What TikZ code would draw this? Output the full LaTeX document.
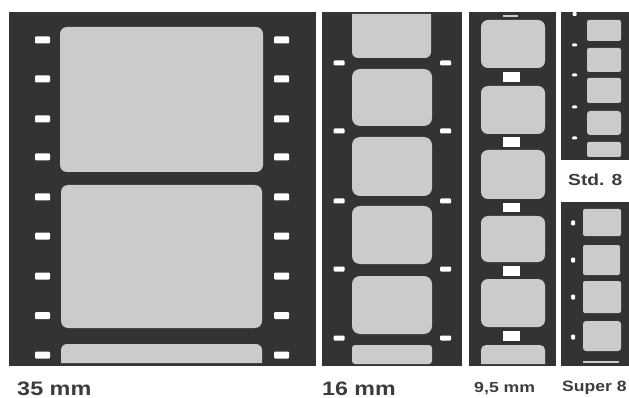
\documentclass[tikz,border=0pt]{standalone}
\usepackage{fontspec}
\setmainfont{Liberation Sans}
\definecolor{filmbase}{HTML}{333333}
\definecolor{framegrey}{HTML}{CBCBCB}
\definecolor{labelgrey}{HTML}{3C3C3C}
\tikzset{
  strip/.style={fill=filmbase,draw=none},
  framebox/.style={fill=framegrey,draw=none,rounded corners=#1},
  framebox/.default=6pt,
  perf/.style={fill=white,draw=none,rounded corners=1pt},
  filmlabel/.style={text=labelgrey,inner sep=0pt,anchor=base west,font=\bfseries}
}
\newcommand{\perfat}[4]{\fill[perf] ({#1-#3/2},{#2-#4/2}) rectangle ({#1+#3/2},{#2+#4/2});}
\begin{document}
\begin{tikzpicture}[x=1pt,y=-1pt]
\useasboundingbox[fill=white] (0,0) rectangle (629,398);
% 35 mm
\fill[strip] (9,12) rectangle (316,366);
\fill[framebox=7pt] (60,27) rectangle (263,172);
\fill[framebox=7pt] (61,185) rectangle (262,328);
\fill[framegrey] (61,363) -- (61,352) [rounded corners=6pt] -- (61,344) -- (262,344) [sharp corners] -- (262,363) -- cycle;
\foreach \y in {40,79,119,157,197,236,276,315.5,355}{
  \perfat{42.5}{\y}{15}{7}
  \perfat{281.5}{\y}{15}{7}
}
% 16 mm
\fill[strip] (322,12) rectangle (462,366);
\fill[framegrey] (352,14) -- (431,14) [rounded corners=6pt] -- (431,58) -- (352,58) [sharp corners] -- cycle;
\foreach \a/\b in {69/126,137/196,206/264,276/334}{
  \fill[framebox=8pt] (352,\a) rectangle (432,\b);
}
\fill[framebox=3pt] (352,345) rectangle (432,364);
\foreach \y in {63,131,201,269,338}{
  \perfat{339}{\y}{11}{5}
  \perfat{445.5}{\y}{11}{5}
}
% 9,5 mm
\fill[strip] (469,12) rectangle (556,366);
\foreach \a/\b in {20/68,86/134,150/199,216/262,279/327}{
  \fill[framebox=7pt] (481,\a) rectangle (545,\b);
}
\fill[framegrey] (481,364) -- (481,352) [rounded corners=5pt] -- (481,345) -- (545,345) [sharp corners] -- (545,364) -- cycle;
\foreach \a/\b in {72/82,137/147,203/212,266/276,331/341}{
  \fill[white] (503,\a) rectangle (520,\b);
}
\fill[framegrey] (503,15.5) rectangle (518,17.5);
% Std. 8
\fill[strip] (561,12) rectangle (629,160);
\fill[framebox=2pt] (587,20) rectangle (621,41);
\fill[framebox=2pt] (587,48) rectangle (621,72);
\fill[framebox=2pt] (587,78) rectangle (621,103);
\fill[framebox=3pt] (587,111) rectangle (621,135);
\fill[framebox=2pt] (587,142) rectangle (621,157);
\perfat{574.5}{14}{4}{4}
\foreach \y in {45,75,107,138}{\perfat{574.5}{\y}{5}{3}}
% Super 8
\fill[strip] (561,202) rectangle (629,366);
\fill[framebox=2pt] (583,209) rectangle (621,236);
\fill[framebox=2pt] (583,245) rectangle (620,275);
\fill[framebox=2pt] (583,281) rectangle (621,313);
\fill[framebox=3pt] (583,321) rectangle (621,351);
\foreach \y in {223,260,297,337}{\perfat{573}{\y}{4}{5}}
\fill[framegrey] (583,360.5) rectangle (619,362.5);
% labels
\node[filmlabel,font=\bfseries\fontsize{19.5}{20}\selectfont,xscale=1.2] (l35) at (17,395) {35 mm};
\node[filmlabel,font=\bfseries\fontsize{19.5}{20}\selectfont,xscale=1.19] (l16) at (322,395) {16 mm};
\node[filmlabel,font=\bfseries\fontsize{14.5}{15}\selectfont,xscale=1.22] (l95) at (474,392) {9,5 mm};
\node[filmlabel,font=\bfseries\fontsize{15}{15}\selectfont,xscale=1.17] (l8s) at (562,391) {Super 8};
\node[filmlabel,font=\bfseries\fontsize{16}{16}\selectfont,xscale=1.2] (l8d) at (568,186) {Std. 8};
\end{tikzpicture}
\end{document}
